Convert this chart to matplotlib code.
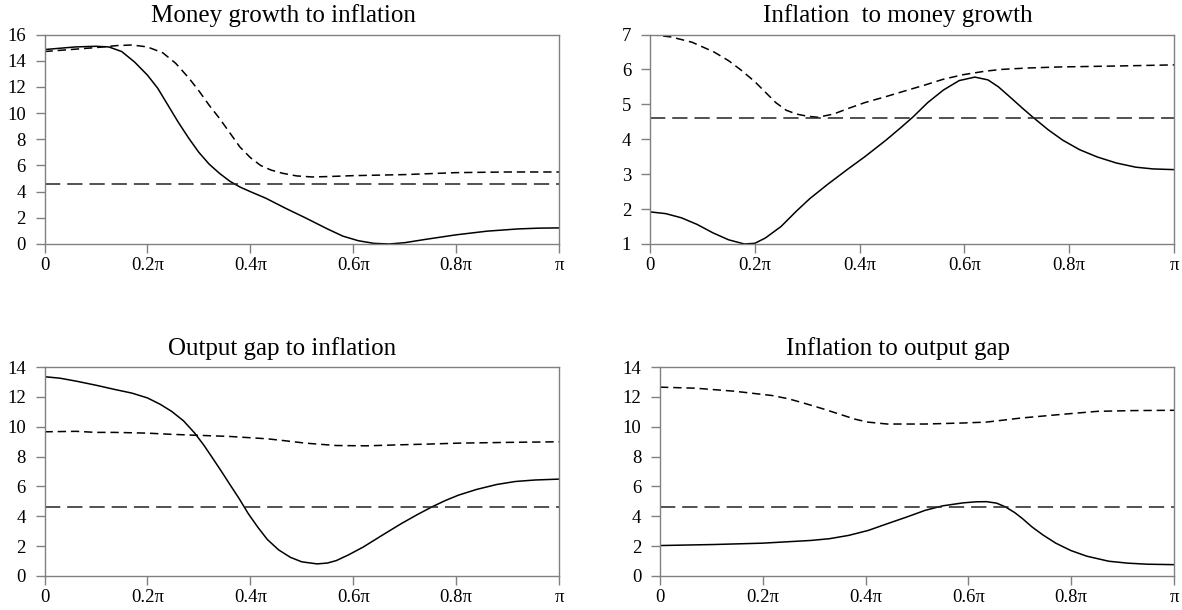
import numpy as np
import matplotlib
matplotlib.use("Agg")
import matplotlib.pyplot as plt

plt.rcParams["font.family"] = ["Liberation Serif", "DejaVu Serif"]
plt.rcParams["lines.scale_dashes"] = False

# critical value line (same in all panels)
crit = 4.61

# x values are fractions of pi
# panel 1: money growth to inflation
x1_solid = [0, 0.03, 0.06, 0.1, 0.125, 0.15, 0.175, 0.2, 0.22, 0.24, 0.26, 0.28, 0.3, 0.32, 0.34,
            0.36, 0.38, 0.4, 0.43, 0.47, 0.507, 0.55, 0.58, 0.61, 0.64, 0.67, 0.7, 0.74, 0.8,
            0.86, 0.92, 0.96, 1.0]
y1_solid = [14.85, 14.95, 15.05, 15.1, 15.05, 14.7, 13.9, 12.9, 11.9, 10.6, 9.3, 8.1, 7.0, 6.1, 5.4,
            4.8, 4.35, 4.0, 3.5, 2.7, 2.0, 1.15, 0.6, 0.25, 0.05, 0.0, 0.1, 0.35, 0.7,
            0.98, 1.15, 1.21, 1.23]
x1_dash = [0, 0.05, 0.1, 0.14, 0.17, 0.2, 0.23, 0.255, 0.28, 0.3, 0.32, 0.34, 0.36, 0.38, 0.4,
           0.42, 0.44, 0.463, 0.49, 0.52, 0.55, 0.6, 0.7, 0.8, 0.9, 1.0]
y1_dash = [14.7, 14.85, 15.0, 15.15, 15.2, 15.05, 14.6, 13.8, 12.7, 11.7, 10.6, 9.6, 8.5, 7.4, 6.6,
           6.0, 5.65, 5.4, 5.2, 5.12, 5.15, 5.22, 5.3, 5.45, 5.5, 5.5]

# panel 2: inflation to money growth
x2_solid = [0, 0.03, 0.06, 0.09, 0.12, 0.15, 0.18, 0.2, 0.22, 0.25, 0.28, 0.305, 0.34, 0.378, 0.41,
            0.45, 0.48, 0.502, 0.53, 0.56, 0.59, 0.62, 0.645, 0.665, 0.69, 0.71, 0.73, 0.76,
            0.788, 0.82, 0.854, 0.89, 0.927, 0.96, 1.0]
y2_solid = [1.92, 1.87, 1.75, 1.56, 1.32, 1.12, 1.0, 1.02, 1.17, 1.5, 1.95, 2.3, 2.72, 3.15, 3.5,
            3.97, 4.35, 4.64, 5.05, 5.41, 5.68, 5.78, 5.7, 5.5, 5.17, 4.9, 4.64, 4.27,
            3.97, 3.7, 3.49, 3.32, 3.2, 3.15, 3.13]
x2_dash = [0, 0.04, 0.08, 0.122, 0.15, 0.173, 0.2, 0.22, 0.24, 0.26, 0.28, 0.3, 0.32, 0.35, 0.378,
           0.41, 0.45, 0.49, 0.524, 0.56, 0.598, 0.64, 0.671, 0.72, 0.78, 0.9, 1.0]
y2_dash = [7.0, 6.93, 6.78, 6.5, 6.25, 5.99, 5.65, 5.35, 5.05, 4.83, 4.72, 4.66, 4.63, 4.72, 4.88,
           5.05, 5.22, 5.4, 5.55, 5.72, 5.85, 5.95, 6.0, 6.04, 6.07, 6.1, 6.13]

# panel 3: output gap to inflation
x3_solid = [0, 0.03, 0.062, 0.1, 0.136, 0.17, 0.2, 0.225, 0.247, 0.27, 0.292, 0.31, 0.329, 0.345,
            0.359, 0.378, 0.396, 0.415, 0.433, 0.455, 0.478, 0.5, 0.53, 0.55, 0.567, 0.59, 0.619,
            0.655, 0.693, 0.725, 0.753, 0.78, 0.805, 0.84, 0.879, 0.915, 0.953, 1.0]
y3_solid = [13.35, 13.25, 13.05, 12.78, 12.5, 12.25, 11.93, 11.5, 11.03, 10.4, 9.57, 8.75, 7.78, 6.95,
            6.2, 5.2, 4.18, 3.25, 2.45, 1.75, 1.25, 0.95, 0.81, 0.87, 1.03, 1.4, 1.93,
            2.7, 3.5, 4.12, 4.63, 5.07, 5.42, 5.8, 6.13, 6.33, 6.43, 6.49]
x3_dash = [0, 0.062, 0.1, 0.136, 0.2, 0.24, 0.285, 0.359, 0.433, 0.47, 0.507, 0.567, 0.626, 0.693,
           0.75, 0.805, 0.9, 1.0]
y3_dash = [9.66, 9.69, 9.62, 9.62, 9.57, 9.5, 9.44, 9.35, 9.19, 9.05, 8.9, 8.74, 8.72, 8.79,
           8.84, 8.9, 8.95, 8.99]

# panel 4: inflation to output gap
x4_solid = [0, 0.106, 0.2, 0.293, 0.33, 0.367, 0.405, 0.442, 0.48, 0.516, 0.55, 0.59, 0.615, 0.635,
            0.655, 0.672, 0.69, 0.705, 0.724, 0.745, 0.77, 0.799, 0.83, 0.873, 0.91, 0.948, 1.0]
y4_solid = [2.04, 2.11, 2.2, 2.38, 2.5, 2.72, 3.05, 3.5, 3.95, 4.4, 4.7, 4.9, 4.97, 4.98,
            4.88, 4.63, 4.25, 3.85, 3.28, 2.75, 2.2, 1.71, 1.33, 0.99, 0.86, 0.79, 0.76]
x4_dash = [0, 0.069, 0.144, 0.218, 0.25, 0.278, 0.315, 0.352, 0.38, 0.404, 0.442, 0.516, 0.59,
           0.635, 0.67, 0.702, 0.776, 0.851, 0.92, 1.0]
y4_dash = [12.65, 12.58, 12.38, 12.09, 11.87, 11.6, 11.22, 10.81, 10.5, 10.31, 10.18, 10.18, 10.25,
           10.31, 10.45, 10.58, 10.81, 11.03, 11.08, 11.1]

titles = ["Money growth to inflation", "Inflation  to money growth",
          "Output gap to inflation", "Inflation to output gap"]
ylims = [(0, 16), (1, 7), (0, 14), (0, 14)]
ysteps = [2, 1, 2, 2]
xtick_labels = ["0", "0.2\u03c0", "0.4\u03c0", "0.6\u03c0", "0.8\u03c0", "\u03c0"]

W, H = 1182, 610
# axes boxes in pixels: left, right, top, bottom ; title centre x
boxes = [(44.5, 559, 34.5, 244, 283.5), (650, 1174, 34.5, 244, 897.5),
         (44.5, 559, 367, 576, 282), (660, 1174, 367, 576, 897.5)]

panels = [(x1_solid, y1_solid, x1_dash, y1_dash),
          (x2_solid, y2_solid, x2_dash, y2_dash),
          (x3_solid, y3_solid, x3_dash, y3_dash),
          (x4_solid, y4_solid, x4_dash, y4_dash)]

fig = plt.figure(figsize=(W / 100, H / 100), dpi=100)
grey = "#808080"

for i, (xs, ys, xd, yd) in enumerate(panels):
    l, r, t, b, tc = boxes[i]
    ax = fig.add_axes([l / W, 1 - b / H, (r - l) / W, (b - t) / H])
    ax.plot(np.array(xs) * np.pi, ys, color="black", lw=1.1)
    ax.plot(np.array(xd) * np.pi, yd, color="black", lw=1.1, dashes=(6, 3.5))
    ax.axhline(crit, color="#222222", lw=1.1, dashes=(11, 5))
    ax.set_xlim(0, np.pi)
    ax.set_ylim(*ylims[i])
    ax.set_yticks(np.arange(ylims[i][0], ylims[i][1] + 0.01, ysteps[i]))
    ax.set_xticks(np.linspace(0, np.pi, 6))
    ax.set_xticklabels(xtick_labels)
    for s in ax.spines.values():
        s.set_color(grey)
        s.set_linewidth(1.0)
    ax.tick_params(axis="both", direction="out", length=6.5, width=1.0,
                   color=grey, labelsize=13.5, labelcolor="black")
    ax.tick_params(axis="y", pad=7)
    ax.tick_params(axis="x", pad=2.5)
    ax.set_title(titles[i], fontsize=18, pad=9, x=(tc - l) / (r - l))

fig.savefig("out.png", dpi=100)
